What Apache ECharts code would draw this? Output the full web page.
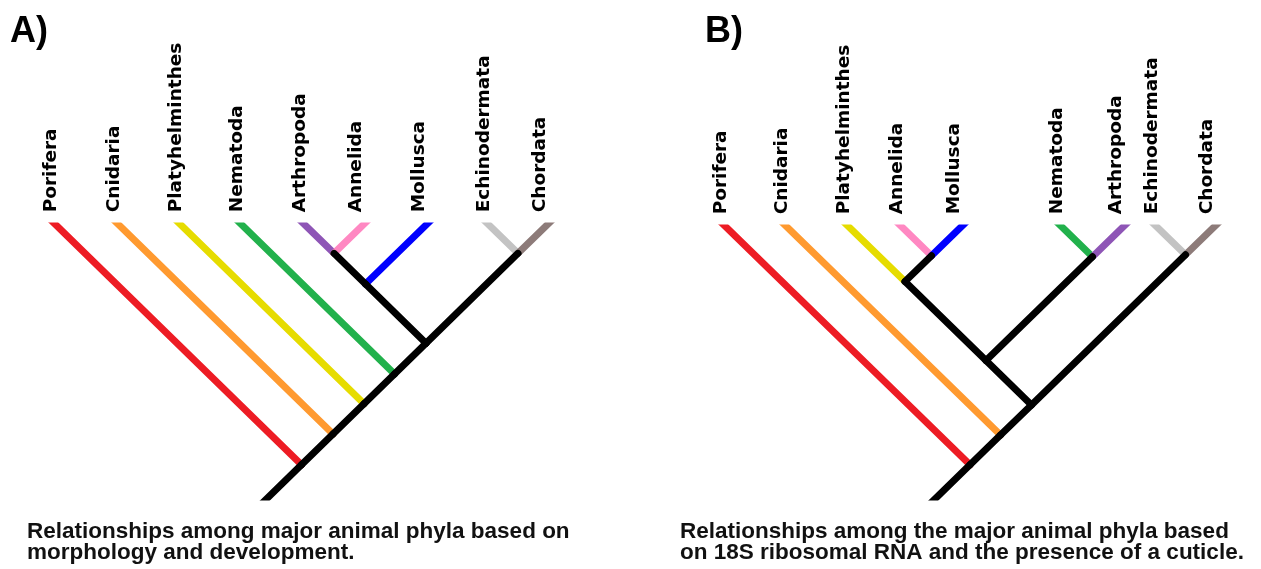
<!DOCTYPE html>
<html>
<head>
<meta charset="utf-8">
<script src="https://cdn.jsdelivr.net/npm/echarts@6/dist/echarts.min.js"></script>
<style>
html,body{margin:0;padding:0;background:#fff;}
#c{width:1261px;height:569px;}
</style>
</head>
<body>
<div id="c"></div>
<script>
// ---- data ----
const leavesA = ['Porifera','Cnidaria','Platyhelminthes','Nematoda','Arthropoda','Annelida','Mollusca','Echinodermata','Chordata'];
const tipsA = [57,120,182,243,306,362,425,490,546];
const treeA = [0,[1,[2,[3,[[[4,5],6],[7,8]]]]]];
const colorsA = ['#ED1C24','#FF9A30','#E6DC00','#22B14C','#8E55B6','#FF88C2','#0000FF','#C3C3C3','#8D7B79'];

const leavesB = ['Porifera','Cnidaria','Platyhelminthes','Annelida','Mollusca','Nematoda','Arthropoda','Echinodermata','Chordata'];
const tipsB = [727,788,850,903,960,1063,1122,1158,1213];
const treeB = [0,[1,[[[2,[3,4]],[5,6]],[7,8]]]];
const colorsB = ['#ED1C24','#FF9A30','#E6DC00','#FF88C2','#0000FF','#22B14C','#8E55B6','#C3C3C3','#8D7B79'];

const rootStem = 33;
const captionA = 'Relationships among major animal phyla based on\nmorphology and development.';
const captionB = 'Relationships among the major animal phyla based\non 18S ribosomal RNA and the presence of a cuticle.';

// ---- layout ----
function layout(node, tips) {
  if (typeof node === 'number') return {x: tips[node], d: 0, lo: tips[node], hi: tips[node], leaf: node, kids: []};
  const kids = node.map(n => layout(n, tips));
  const lo = Math.min(...kids.map(k => k.lo)), hi = Math.max(...kids.map(k => k.hi));
  return {x: (lo + hi) / 2, d: (hi - lo) / 2, lo, hi, kids};
}
const EXT = 8;
function edges(node, colors, out) {
  node.kids.forEach(c => {
    let start = [c.x, c.d];
    let color = '#000';
    if (c.leaf !== undefined) {
      const s = Math.sign(node.x - c.x);
      start = [c.x - s * EXT, -EXT];
      color = colors[c.leaf];
    }
    out.push({pts: [start, [node.x, node.d]], color});
    edges(c, colors, out);
  });
  return out;
}

const series = [];
const grids = [], xAxes = [], yAxes = [];
function panel(idx, tree, tips, leaves, colors, top, height) {
  const root = layout(tree, tips);
  const es = edges(root, colors, []);
  es.push({pts: [[root.x, root.d], [root.x - rootStem - EXT, root.d + rootStem + EXT]], color: '#000'});
  grids.push({left: 0, right: 0, top: top, height: height, show: false});
  xAxes.push({type: 'value', gridIndex: idx, min: 0, max: 1261, show: false});
  yAxes.push({type: 'value', gridIndex: idx, min: 0, max: root.d + rootStem, inverse: true, show: false});
  es.forEach(e => {
    const black = e.color === '#000';
    series.push({
      type: 'line', xAxisIndex: idx, yAxisIndex: idx, data: e.pts,
      showSymbol: false, clip: true, silent: true, z: black ? 4 : 3,
      lineStyle: {width: 7, color: e.color, cap: 'round'}
    });
  });
  series.push({
    type: 'scatter', xAxisIndex: idx, yAxisIndex: idx, clip: false, symbolSize: 0, silent: true,
    itemStyle: {opacity: 1},
    data: tips.map((x, i) => ({name: leaves[i], value: [x, -14]})),
    label: {
      show: true, formatter: '{b}', rotate: 90, position: 'inside', align: 'left', verticalAlign: 'middle',
      offset: [0, -6], fontFamily: 'DejaVu Sans', fontWeight: 'bold', fontSize: 18.5, color: '#000',
      opacity: 1, textBorderWidth: 0, textBorderColor: 'transparent'
    }
  });
}
panel(0, treeA, tipsA, leavesA, colorsA, 226, 271);
panel(1, treeB, tipsB, leavesB, colorsB, 228, 269);

const chart = echarts.init(document.getElementById('c'));
const capStyle = {fontFamily: 'Liberation Sans', fontWeight: 'bold', fontSize: 22.5, lineHeight: 21, color: '#111'};
const headStyle = {fontFamily: 'Liberation Sans', fontWeight: 'bold', fontSize: 36, color: '#000'};
chart.setOption({
  animation: false,
  backgroundColor: '#fff',
  title: [
    {text: 'A)', left: 10, top: 14, padding: 0, textStyle: headStyle},
    {text: 'B)', left: 705, top: 14, padding: 0, textStyle: headStyle},
    {text: captionA, left: 27, top: 521, padding: 0, textStyle: capStyle},
    {text: captionB, left: 680, top: 521, padding: 0, textStyle: capStyle}
  ],
  grid: grids, xAxis: xAxes, yAxis: yAxes, series: series
});
</script>
</body>
</html>
